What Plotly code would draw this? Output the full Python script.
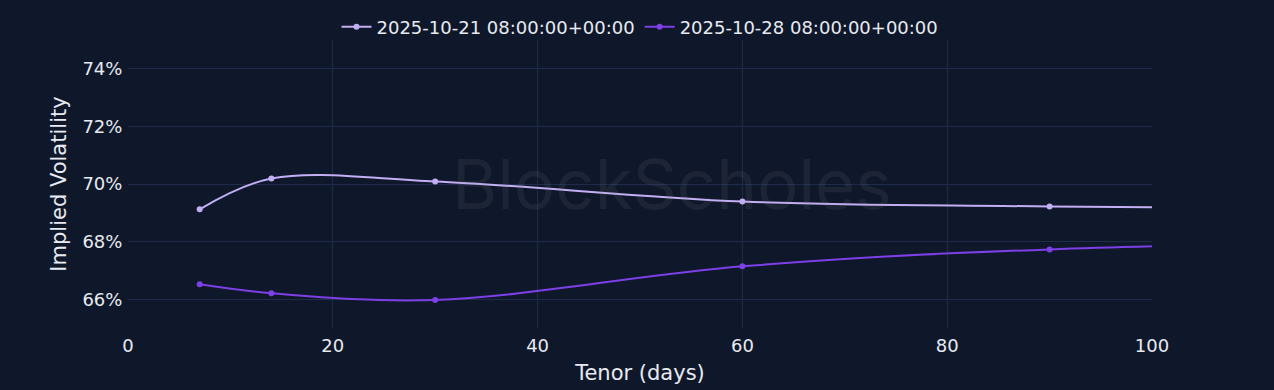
import plotly.graph_objects as go

tenor = [7, 14, 30, 60, 90, 180]
iv_1021 = [0.6912, 0.7019, 0.7009, 0.6939, 0.6922, 0.6900]
iv_1028 = [0.6652, 0.6621, 0.6597, 0.6714, 0.6773, 0.6830]
names = ["2025-10-21 08:00:00+00:00", "2025-10-28 08:00:00+00:00"]
colors = ["#c2aef2", "#7d3fe6"]

bg = "#0f182b"
grid = "#1e2c4a"
txt = "#e8eaf0"

fig = go.Figure()
for y, n, c in zip([iv_1021, iv_1028], names, colors):
    fig.add_trace(go.Scatter(
        x=tenor, y=y, name=n, mode="lines+markers",
        line=dict(color=c, width=2, shape="spline"),
        marker=dict(color=c, size=6),
    ))

fig.add_annotation(
    text="BlockScholes", x=0.531, y=0.5, xref="paper", yref="paper",
    showarrow=False, font=dict(family="Inter, DejaVu Sans", size=69, color="rgba(150,150,150,0.10)"),
)

fig.update_layout(
    width=1274, height=390,
    paper_bgcolor=bg, plot_bgcolor=bg,
    font=dict(family="DejaVu Sans", size=18, color=txt),
    margin=dict(l=128, r=122, t=40, b=62, autoexpand=False),
    showlegend=True,
    legend=dict(orientation="h", x=0.5, xanchor="center", y=1.045, yanchor="middle",
                font=dict(size=18, color=txt), bgcolor="rgba(0,0,0,0)"),
    xaxis=dict(range=[0, 100], tickvals=[0, 20, 40, 60, 80, 100], showgrid=True,
               gridcolor=grid, zeroline=False, showline=False,
               ticks="outside", ticklen=1, tickcolor=bg,
               title=dict(text="Tenor (days)", font=dict(size=21), standoff=10),
               tickfont=dict(size=18)),
    yaxis=dict(range=[0.65, 0.75], tickvals=[0.66, 0.68, 0.70, 0.72, 0.74], tickformat=".0%",
               showgrid=True, gridcolor=grid, zeroline=False, showline=False,
               ticks="outside", ticklen=1, tickcolor=bg,
               title=dict(text="Implied Volatility", font=dict(size=21), standoff=10),
               tickfont=dict(size=18)),
)

fig.write_html("out.html")
